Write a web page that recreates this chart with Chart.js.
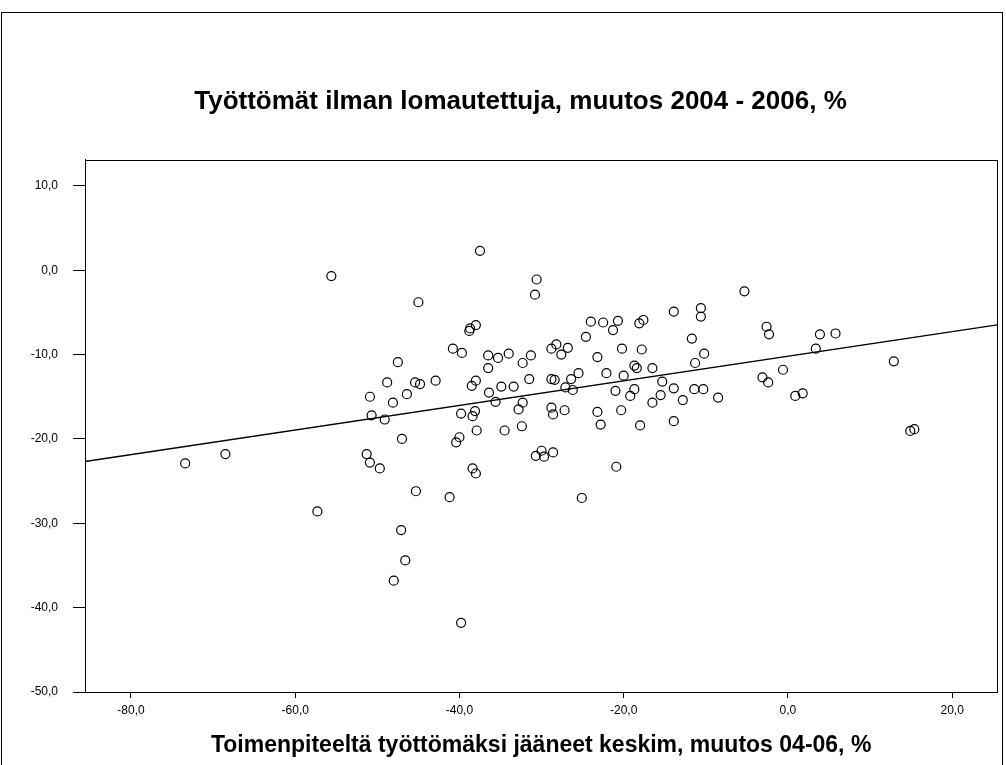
<!DOCTYPE html>
<html>
<head>
<meta charset="utf-8">
<script src="https://cdn.jsdelivr.net/npm/chart.js@4/dist/chart.umd.min.js"></script>
<style>
  html, body { margin: 0; padding: 0; background: #fff; overflow: hidden; }
  #frame {
    position: absolute; left: 1px; top: 12px; width: 1002px; height: 800px;
    border: 1px solid #000; box-sizing: border-box;
  }
  #wrap { position: absolute; left: 0; top: 0; width: 1006px; height: 765px; }
  #title {
    position: absolute; left: 0; top: 85px; width: 1041px; height: 30px;
    line-height: 30px; text-align: center; white-space: nowrap;
    font: bold 26px "Liberation Sans", Arial, sans-serif; color: #000;
  }
</style>
</head>
<body>
<div id="frame"></div>
<div id="wrap"><canvas id="chart" width="1006" height="765"></canvas></div>
<div id="title"></div>
<script>
// Values: x = Toimenpiteeltä työttömäksi jääneet (%), y = Työttömät ilman lomautettuja (%)
const xValues = [
  -55.6, -45.0, -47.5, -48.8, -45.4, -44.8, -46.4, -50.9, -48.1, -50.7,
  -49.1, -73.4, -68.5, -47.0, -51.3, -50.9, -49.7, -45.3, -57.3, -47.1,
  -46.6, -48.0, -37.9, -40.4, -40.0, -34.5, -32.4, -38.4, -38.0, -41.2,
  -30.0, -30.7, -29.7, -28.6, -25.1, -20.9, -22.8, -18.0, -13.9, -39.8,
  14.9, 15.4, -37.5, -30.6, -30.8, -13.9, -10.6, -10.6, -24.0, -22.5,
  -20.7, -21.3, -18.1, -17.6, -38.8, -38.7, -38.0, -24.6, -11.7, -40.8,
  -39.7, -36.5, -35.3, -34.0, -36.5, -32.3, -31.3, -28.8, -28.2, -26.8,
  -27.6, -23.2, -20.2, -17.8, -11.3, -10.2, -22.1, -18.7, -18.4, -16.5,
  -20.0, -25.5, -42.9, -38.5, -38.0, -36.4, -34.9, -33.4, -31.5, -28.8,
  -28.4, -26.4, -27.1, -26.2, -15.3, -13.9, -21.0, -18.7, -19.2, -15.5,
  -16.5, -12.8, -11.4, -35.6, -32.3, -32.8, -39.8, -38.4, -38.1, -28.8,
  -28.6, -27.2, -23.2, -20.3, -5.3, -2.6, -2.3, 3.9, 5.8, 3.4,
  12.9, -0.6, -3.1, -2.4, -10.3, -8.5, 0.9, 1.8
];
const yValues = [
  -0.7, -3.8, -10.9, -13.3, -13.3, -13.5, -14.7, -15.0, -15.7, -17.2,
  -17.7, -22.9, -21.8, -20.0, -21.8, -22.8, -23.5, -26.2, -28.6, -30.8,
  -34.4, -36.8, -19.0, -20.4, -19.8, -19.0, -18.5, -23.5, -24.1, -26.9,
  -21.4, -22.0, -22.1, -21.6, -27.0, -23.3, -18.3, -18.4, -17.9, -41.8,
  -19.05, -18.85, 2.3, -1.1, -2.9, -4.9, -4.5, -5.5, -6.1, -6.2,
  -6.0, -7.1, -6.3, -5.9, -7.2, -6.9, -6.5, -7.9, -8.1, -9.3,
  -9.8, -10.1, -10.4, -9.9, -11.6, -11.0, -10.1, -9.3, -8.8, -9.2,
  -10.0, -10.3, -9.3, -9.4, -11.0, -9.9, -12.2, -11.3, -11.6, -11.6,
  -12.5, -12.2, -13.1, -13.7, -13.1, -14.5, -13.8, -13.8, -12.9, -12.9,
  -13.0, -12.9, -13.9, -14.2, -13.2, -14.0, -14.3, -14.1, -14.9, -14.8,
  -15.7, -15.4, -14.1, -15.6, -15.7, -16.5, -17.0, -17.3, -16.7, -16.3,
  -17.1, -16.6, -16.8, -16.6, -2.5, -6.7, -7.6, -7.6, -7.5, -9.3,
  -10.8, -11.8, -12.7, -13.3, -14.1, -15.1, -14.9, -14.6
];
const xTicks = [-80, -60, -40, -20, 0, 20];
const yTicks = [-50, -40, -30, -20, -10, 0, 10];
const xRange = [-85.6, 25.5];
const yRange = [-50, 13.1];

const chartTitle = 'Työttömät ilman lomautettuja, muutos 2004 - 2006, %';
const xTitle = 'Toimenpiteeltä työttömäksi jääneet keskim, muutos 04-06, %';

document.getElementById('title').textContent = chartTitle;

const points = xValues.map((x, i) => ({ x: x, y: yValues[i] }));

// least squares fit line, like the original tool draws it
const n = xValues.length;
const mx = xValues.reduce((a, b) => a + b, 0) / n;
const my = yValues.reduce((a, b) => a + b, 0) / n;
let sxy = 0, sxx = 0;
xValues.forEach((x, i) => { sxy += (x - mx) * (yValues[i] - my); sxx += (x - mx) * (x - mx); });
const slope = sxy / sxx;
const intercept = my - slope * mx;
const fitLine = xRange.map((x) => ({ x: x, y: intercept + slope * x }));

const fmt = (v) => v.toFixed(1).replace('.', ',');
const font = 'Liberation Sans, Arial, sans-serif';

// box around the plot area
const plotFrame = {
  id: 'plotFrame',
  afterDraw(chart) {
    const { ctx, chartArea: a } = chart;
    ctx.save();
    ctx.strokeStyle = '#000';
    ctx.lineWidth = 1;
    ctx.strokeRect(Math.round(a.left) + 0.5, Math.round(a.top) + 0.5,
      Math.round(a.right - a.left), Math.round(a.bottom - a.top));
    ctx.restore();
  }
};

new Chart(document.getElementById('chart'), {
  type: 'scatter',
  data: {
    datasets: [
      {
        data: points,
        pointRadius: 4.5,
        pointBorderWidth: 1.2,
        borderColor: '#000',
        backgroundColor: 'rgba(0,0,0,0)',
        pointHoverRadius: 4.5
      },
      {
        type: 'line',
        data: fitLine,
        borderColor: '#000',
        borderWidth: 1.3,
        pointRadius: 0,
        fill: false
      }
    ]
  },
  options: {
    responsive: false,
    animation: false,
    layout: { padding: { left: 0, right: 8.7, top: 159.7, bottom: 0 } },
    plugins: {
      legend: { display: false },
      tooltip: { enabled: false },
      title: { display: false }
    },
    scales: {
      x: {
        type: 'linear',
        min: xRange[0],
        max: xRange[1],
        afterBuildTicks: (s) => { s.ticks = xTicks.map((v) => ({ value: v })); },
        afterFit: (s) => { s.height = 73; },
        grid: { drawOnChartArea: false, tickLength: 6, color: '#000' },
        border: { display: true, color: '#000' },
        ticks: {
          color: '#000',
          font: { family: font, size: 12 },
          padding: 5,
          maxRotation: 0,
          callback: (v) => fmt(v)
        },
        title: {
          display: true,
          text: xTitle,
          color: '#000',
          font: { family: font, size: 23, weight: 'bold' },
          padding: { top: 0, bottom: 6 }
        }
      },
      y: {
        type: 'linear',
        min: yRange[0],
        max: yRange[1],
        afterBuildTicks: (s) => { s.ticks = yTicks.map((v) => ({ value: v })); },
        afterFit: (s) => { s.width = 85; },
        grid: { drawOnChartArea: false, tickLength: 12, color: '#000' },
        border: { display: true, color: '#000' },
        ticks: {
          color: '#000',
          font: { family: font, size: 12 },
          padding: 15,
          callback: (v) => fmt(v)
        }
      }
    }
  },
  plugins: [plotFrame]
});
</script>
</body>
</html>
